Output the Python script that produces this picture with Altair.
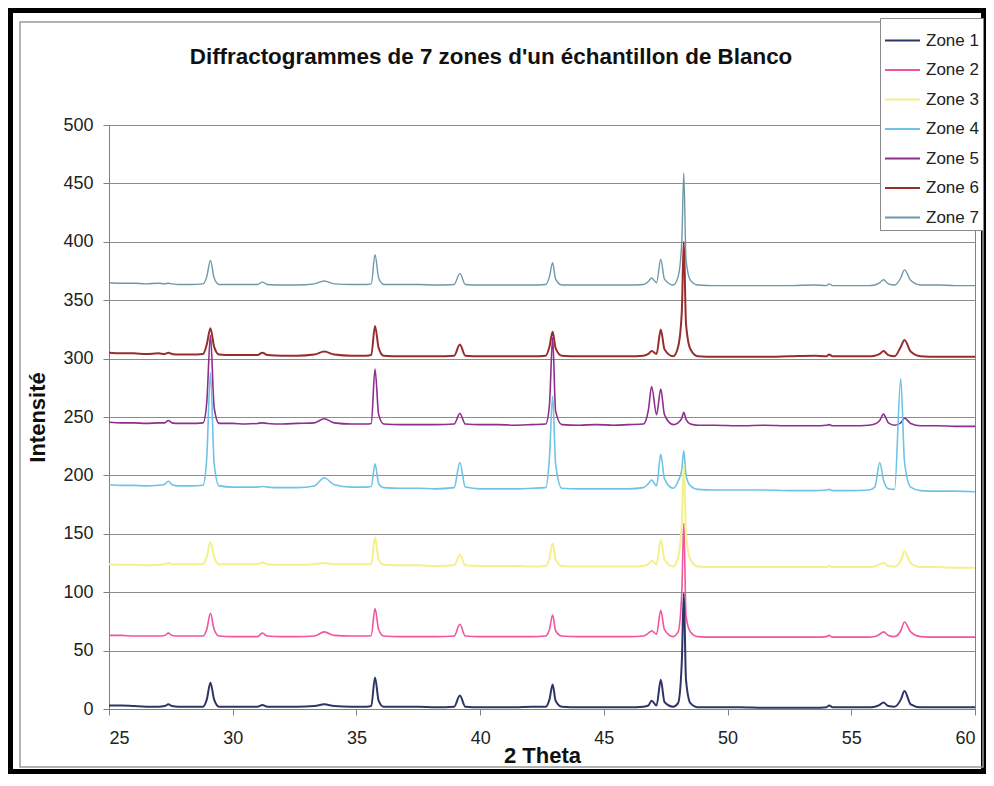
import altair as alt
import pandas as pd

# 2-theta positions (degrees) at which the traces are read
two_theta = [
    25.0, 25.5, 26.0, 26.5, 27.0,
    27.25, 27.4, 27.55,
    27.8, 28.3, 28.8,
    28.95, 29.1, 29.25,
    29.45, 30.0, 30.5, 31.0,
    31.2, 31.4,
    32.0, 32.6, 33.3,
    33.7, 34.1,
    34.8, 35.4, 35.6,
    35.75, 35.9,
    36.1, 36.8, 37.5, 38.2, 38.95,
    39.18, 39.4,
    40.0, 40.7, 41.4, 42.1, 42.65,
    42.8, 42.93, 43.05,
    43.3, 44.0, 44.7, 45.4, 46.0, 46.6,
    46.8, 46.93, 47.13, 47.3, 47.45,
    47.8, 48.0, 48.15, 48.23, 48.32, 48.5,
    48.8, 49.5, 50.5, 51.5, 52.5, 53.5, 54.0,
    54.1, 54.25,
    55.0, 55.7, 55.95,
    56.15, 56.3, 56.5, 56.75,
    57.0, 57.15, 57.4,
    57.8, 58.5, 59.2, 60.0,
]

zone1 = [
    3, 3, 2.5, 2, 2,
    2.5, 4, 2.5,
    2, 2, 2,
    8, 22.5, 8,
    2, 2, 2, 2,
    3.5, 2,
    2, 2, 2.5,
    4, 2.5,
    2, 2, 2.5,
    27, 7,
    2, 2, 2, 1.5, 2,
    11.5, 2,
    1.5, 1.5, 1.5, 2, 2,
    8, 21, 7,
    2, 1.5, 1.5, 1.5, 1.5, 2,
    3, 7, 3, 25, 6,
    2, 5, 40, 99, 25, 5,
    1.5, 1.5, 1.5, 1, 1, 1, 1.5,
    3, 1.5,
    1.5, 1.5, 2,
    3.5, 5.5, 2.5, 2,
    8, 15.5, 4,
    1.5, 1.5, 1.5, 1.5,
]

zone2 = [
    63, 63, 62.5, 62.5, 62.5,
    63, 65, 63,
    62.5, 62.5, 62.5,
    68, 82, 68,
    62.5, 62, 62, 62,
    65, 62.5,
    62, 62, 62.5,
    66, 63,
    62.5, 62.5, 63,
    86, 68,
    62.5, 62, 62, 62, 62.5,
    72.5, 62.5,
    62, 62, 62, 62, 62.5,
    68, 80.5, 67,
    62.5, 62, 62, 62, 62, 62.5,
    65, 67, 64, 84.5, 68,
    62, 66, 100, 159, 80, 66,
    62, 61.5, 61.5, 61.5, 61.5, 61.5, 62,
    63, 61.5,
    61.5, 61.5, 62,
    64, 66, 63, 62,
    67, 74.5, 66,
    62, 61.5, 61.5, 61.5,
]

zone3 = [
    124, 123.5, 123.5, 123, 123.5,
    124, 125, 124,
    124, 124, 124,
    130, 143, 130,
    124, 124, 124, 124,
    125.5, 124,
    123.5, 123.5, 124,
    125, 124,
    124, 124, 124,
    147, 128,
    123.5, 123, 123, 122.5, 123,
    132, 123,
    122.5, 122.5, 122.5, 122, 122.5,
    129, 142, 128,
    122.5, 122, 122, 122, 122, 122.5,
    124, 127, 124, 145, 128,
    122, 130, 160, 210, 150, 128,
    122, 121.5, 121.5, 121.5, 121.5, 121.5, 121.5,
    122.5, 121.5,
    121.5, 121.5, 122,
    124, 125, 122.5, 122,
    127, 135, 125,
    121.5, 121.5, 121, 121,
]

zone4 = [
    192, 191.5, 191.5, 191, 191.5,
    192.5, 195, 192,
    191, 191, 191.5,
    215, 288, 210,
    191, 190, 190, 190,
    190.5, 190,
    189.5, 189.5, 191,
    198, 192,
    190, 190, 190.5,
    210, 193,
    189.5, 189, 189, 188.5, 189.5,
    211, 190,
    188.5, 188.5, 188.5, 189, 189.5,
    215, 268, 210,
    189, 188.5, 188.5, 188.5, 188.5, 189.5,
    193, 196, 191, 218, 197,
    189, 195, 205, 221, 200, 191,
    188, 187.5, 187.5, 187.5, 187, 187, 187.5,
    188, 187,
    187, 187.5, 190,
    211, 196, 188.5, 188,
    283, 212, 190,
    187, 186.5, 186.5, 186,
]

zone5 = [
    245.5, 245, 245, 244.5, 245,
    245, 247, 245,
    244.5, 244.5, 245,
    262, 320, 258,
    244.5, 244.5, 244, 244.5,
    245, 244.5,
    244, 244.5, 245,
    248.5, 245,
    244, 244, 244.5,
    291, 252,
    244, 243.5, 243.5, 243.5, 244,
    253, 244,
    243.5, 243.5, 243, 243.5, 244,
    260, 318, 255,
    243.5, 243, 243.5, 243, 243.5, 244,
    256, 276, 252, 274, 252,
    243.5, 245, 249, 254, 248, 244,
    243, 243, 242.5, 243, 242.5, 242.5, 243,
    243.5, 242.5,
    242.5, 243, 244,
    247, 252.5, 245, 243,
    245, 249, 244.5,
    242.5, 242.5, 242, 242,
]

zone6 = [
    305, 304.5, 304.5, 304, 304.5,
    304, 305, 304,
    303.5, 303.5, 304,
    312, 326, 310,
    303.5, 303, 303, 303,
    305, 303,
    302.5, 302.5, 303.5,
    306, 303.5,
    302.5, 302.5, 303,
    328, 309,
    302.5, 302, 302, 302, 302.5,
    312, 302.5,
    302, 302, 302, 302, 302.5,
    310, 323, 309,
    302.5, 302, 302, 302, 302, 302.5,
    304, 306.5, 304, 325, 308,
    302, 310, 340, 400, 330, 308,
    302, 301.5, 301.5, 301.5, 302, 302.5, 302,
    303.5, 302,
    302, 302, 302.5,
    304, 306.5, 303, 302,
    310, 316, 306,
    302, 301.5, 301.5, 301.5,
]

zone7 = [
    365, 364.5, 364.5, 364, 364.5,
    364, 364.5, 364,
    363.5, 363.5, 364,
    370, 384, 369,
    363.5, 363.5, 363.5, 363.5,
    365.5, 363.5,
    363, 363, 364,
    366.5, 364,
    363.5, 363.5, 364,
    389, 369,
    363.5, 363.5, 363.5, 363, 363.5,
    373, 363.5,
    363, 363, 363, 363, 363.5,
    370, 382, 368,
    363, 363, 363, 363, 363, 363.5,
    366, 369, 365, 385, 368,
    363, 370, 400, 459, 385, 367,
    363, 362.5, 362.5, 362.5, 362.5, 363, 362.5,
    364, 362.5,
    362.5, 362.5, 363,
    365, 367.5, 364, 363,
    369, 376, 367,
    363, 363, 362.5, 362.5,
]

zones = ["Zone 1", "Zone 2", "Zone 3", "Zone 4", "Zone 5", "Zone 6", "Zone 7"]
series = [zone1, zone2, zone3, zone4, zone5, zone6, zone7]
colors = ["#2E3466", "#F0559E", "#F4F08A", "#6EC3E6", "#8E2F8E", "#962E2E", "#6E98A8"]
widths = [2, 1.6, 2, 1.6, 1.6, 2, 1.4]

title_text = "Diffractogrammes de 7 zones d'un échantillon de Blanco"

rows = []
for name, vals in zip(zones, series):
    assert len(vals) == len(two_theta), name
    for t, v in zip(two_theta, vals):
        rows.append({"theta": t, "intensity": v, "zone": name})
df = pd.DataFrame(rows)

FONT = "Liberation Sans"

color = alt.Color(
    "zone:N",
    scale=alt.Scale(domain=zones, range=colors),
    legend=alt.Legend(
        title=None, orient="none", legendX=771, legendY=-107,
        symbolType="stroke", symbolSize=1225, symbolStrokeWidth=2,
        labelFontSize=17, labelFont=FONT, labelColor="#222222",
        strokeColor="#8a8a8a", fillColor="white", padding=4,
        rowPadding=2.5, labelOffset=5, symbolLimit=0,
    ),
)
x = alt.X(
    "theta:Q",
    scale=alt.Scale(domain=[25, 60], nice=False, zero=False),
    axis=alt.Axis(
        values=[25, 30, 35, 40, 45, 50, 55, 60], grid=False, tickSize=6,
        labelFontSize=18, labelFont=FONT, labelPadding=14, labelColor="#222222",
        domainColor="#808080", tickColor="#808080",
        title="2 Theta", titleFont=FONT, titleFontSize=22, titleFontWeight="bold",
        titleColor="#111111", titleY=46, titleBaseline="middle",
    ),
)
y = alt.Y(
    "intensity:Q",
    scale=alt.Scale(domain=[0, 500], nice=False),
    axis=alt.Axis(
        values=list(range(0, 501, 50)), grid=True, gridColor="#8c8c8c", gridWidth=1,
        tickSize=6, labelFontSize=18, labelFont=FONT, labelPadding=10,
        labelColor="#222222", domainColor="#808080", tickColor="#808080",
        title="Intensité", titleFont=FONT, titleFontSize=22, titleFontWeight="bold",
        titleColor="#111111", titleX=-72, titleY=292, titleAngle=270,
        titleAlign="center", titleBaseline="middle",
    ),
)

frame_data = alt.Data(values=[{"k": 1}])
outer = alt.Chart(frame_data).mark_rect(
    fill="transparent", stroke="black", strokeWidth=10
).encode(x=alt.value(-101), x2=alt.value(877), y=alt.value(-117), y2=alt.value(649))
inner = alt.Chart(frame_data).mark_rect(
    fill="transparent", stroke="#9a9a9a", strokeWidth=1.5
).encode(x=alt.value(-89), x2=alt.value(874), y=alt.value(-103), y2=alt.value(642))
title = alt.Chart(frame_data).mark_text(
    font=FONT, fontSize=22.4, fontWeight="bold", color="#111111",
    align="center", baseline="middle",
).encode(x=alt.value(382), y=alt.value(-68), text=alt.value(title_text))

layers = [outer, inner, title]
for i in reversed(range(len(zones))):
    layers.append(
        alt.Chart(df)
        .transform_filter(alt.datum.zone == zones[i])
        .mark_line(strokeWidth=widths[i], clip=True, interpolate="monotone")
        .encode(x=x, y=y, color=color)
    )

chart = (
    alt.layer(*layers)
    .properties(
        width=866, height=584,
        padding={"left": 101, "top": 117, "right": 11, "bottom": 65},
        autosize=alt.AutoSizeParams(type="none"),
        background="white",
    )
    .configure_view(stroke="#808080", strokeWidth=1)
)

chart.save("out.html", embed_options={"renderer": "svg", "actions": False})
